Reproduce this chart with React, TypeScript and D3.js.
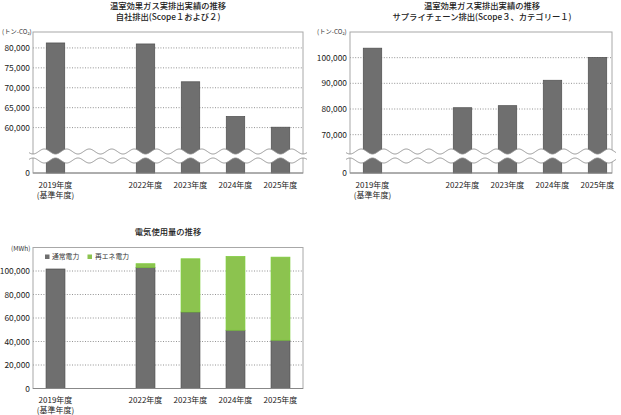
import * as d3 from 'd3';
import React from 'react';

// slots: one empty slot stands for the years that are not shown
const slots = ['2019', 'gap', '2022', '2023', '2024', '2025'];
const slotLabels = ['2019年度', '', '2022年度', '2023年度', '2024年度', '2025年度'];
const baseNote = '(基準年度)';

const scope12 = [81250, null, 81000, 71500, 62800, 60100];
const scope12Ticks = [60000, 65000, 70000, 75000, 80000];

const scope3 = [103700, null, 80500, 81300, 91200, 100100];
const scope3Ticks = [70000, 80000, 90000, 100000];

const elecNormal = [101700, null, 103100, 65100, 49600, 41100];
const elecRenew = [0, null, 3100, 45300, 62800, 70700];
const elecTicks = [0, 20000, 40000, 60000, 80000, 100000];

const FONT = '"Noto Sans CJK JP", "Noto Sans", sans-serif';
const GRAY = '#6f6f6f';
const GRAY_EDGE = '#4e4e4e';
const GREEN = '#8cc34f';
const GREEN_EDGE = '#7ccc38';
const FRAME = '#a8a8a8';
const GRID = '#777';

const fmt = d3.format(',');

type Box = { left: number; right: number; top: number; bottom: number };

const XLabels: React.FC<{ x: d3.ScaleBand<string>; y0: number }> = ({ x, y0 }) => (
  <g fontFamily={FONT} fontSize={8} fill="#222" textAnchor="middle">
    {slots.map((s, i) =>
      slotLabels[i] ? (
        <text key={s} x={x(s)! + x.bandwidth() / 2} y={y0}>
          {slotLabels[i]}
        </text>
      ) : null,
    )}
    <text x={x(slots[0])! + x.bandwidth() / 2} y={y0 + 10}>
      {baseNote}
    </text>
  </g>
);

const Wave: React.FC<{ box: Box; xc: number; period: number }> = ({ box, xc, period }) => {
  const xs = d3.range(box.left - 4, box.right + 4.01, 0.5);
  const up = xs.map((x) => [x, 151.5 + 2.5 * Math.cos((2 * Math.PI * (x - xc)) / period)] as [number, number]);
  const lo = xs.map((x) => [x, 160.5 - 2.5 * Math.cos((2 * Math.PI * (x - xc)) / period)] as [number, number]);
  const line = d3.line();
  const area = line([...up, ...lo.slice().reverse()]) + 'Z';
  return (
    <g>
      <path d={area} fill="#fff" />
      <path d={line(up)!} fill="none" stroke="#8a8a8a" strokeWidth={0.9} />
      <path d={line(lo)!} fill="none" stroke="#8a8a8a" strokeWidth={0.9} />
    </g>
  );
};

const BrokenChart: React.FC<{
  box: Box;
  bandEnd: number;
  values: (number | null)[];
  ticks: number[];
  domain: number[];
  title: string[];
  titleX: number;
  unitX: number;
}> = ({ box, bandEnd, values, ticks, domain, title, titleX, unitX }) => {
  const x = d3.scaleBand().domain(slots).range([box.left, bandEnd]).paddingInner(0.59).paddingOuter(0.295);
  const y = d3.scaleLinear().domain(domain).range([box.bottom, 147.5, box.top]);
  return (
    <g>
      <g fontFamily={FONT} fontSize={8.3} fill="#222" textAnchor="middle" fontWeight={500}>
        <text x={titleX} y={9}>{title[0]}</text>
        <text x={titleX} y={19.5}>{title[1]}</text>
      </g>
      <text x={unitX} y={34} fontFamily={FONT} fontSize={6.3} fill="#333">
        (トン-CO₂)
      </text>
      {ticks.map((t) => (
        <line key={t} x1={box.left} x2={box.right} y1={y(t)} y2={y(t)} stroke={GRID} strokeWidth={0.8} strokeDasharray="1 1.6" />
      ))}
      <rect x={box.left} y={box.top} width={box.right - box.left} height={box.bottom - box.top} fill="none" stroke={FRAME} strokeWidth={1} />
      {values.map((v, i) =>
        v == null ? null : (
          <rect key={i} x={x(slots[i])} y={y(v)} width={x.bandwidth()} height={box.bottom - y(v)} fill={GRAY} stroke={GRAY_EDGE} strokeWidth={0.7} />
        ),
      )}
      <Wave box={box} xc={x(slots[0])! + x.bandwidth() / 2} period={x.step() / 2} />
      <line x1={box.left} x2={box.right} y1={box.bottom} y2={box.bottom} stroke="#888" strokeWidth={1} />
      <g fontFamily={FONT} fontSize={8.4} fill="#222" textAnchor="end">
        {ticks.map((t) => (
          <text key={t} x={box.left - 3} y={y(t) + 3}>{fmt(t)}</text>
        ))}
        <text x={box.left - 3} y={box.bottom + 3}>0</text>
      </g>
      <XLabels x={x} y0={187.5} />
    </g>
  );
};

const StackedChart: React.FC = () => {
  const box: Box = { left: 33, right: 303, top: 247.5, bottom: 388.5 };
  const x = d3.scaleBand().domain(slots).range([box.left, box.left + 270]).paddingInner(0.58).paddingOuter(0.29);
  const y = d3.scaleLinear().domain([0, 120000]).range([box.bottom, box.top]);
  return (
    <g>
      <text x={168} y={234.5} fontFamily={FONT} fontSize={8.3} fontWeight={500} fill="#222" textAnchor="middle">
        電気使用量の推移
      </text>
      <text x={11} y={251} fontFamily={FONT} fontSize={6.5} fill="#333">(MWh)</text>
      {elecTicks.slice(1).map((t) => (
        <line key={t} x1={box.left} x2={box.right} y1={y(t)} y2={y(t)} stroke={GRID} strokeWidth={0.8} strokeDasharray="1 1.6" />
      ))}
      <rect x={box.left} y={box.top} width={box.right - box.left} height={box.bottom - box.top} fill="none" stroke={FRAME} strokeWidth={1} />
      {elecNormal.map((v, i) => {
        if (v == null) return null;
        const r = elecRenew[i] ?? 0;
        return (
          <g key={i}>
            <rect x={x(slots[i])} y={y(v)} width={x.bandwidth()} height={box.bottom - y(v)} fill={GRAY} stroke={GRAY_EDGE} strokeWidth={0.7} />
            {r > 0 && (
              <rect x={x(slots[i])} y={y(v + r)} width={x.bandwidth()} height={y(v) - y(v + r)} fill={GREEN} stroke={GREEN_EDGE} strokeWidth={0.7} />
            )}
          </g>
        );
      })}
      <line x1={box.left} x2={box.right} y1={box.bottom} y2={box.bottom} stroke="#888" strokeWidth={1} />
      <g fontFamily={FONT} fontSize={8.4} fill="#222" textAnchor="end">
        {elecTicks.map((t) => (
          <text key={t} x={box.left - 3} y={y(t) + 3}>{fmt(t)}</text>
        ))}
      </g>
      <g fontFamily={FONT} fontSize={6.8} fill="#333">
        <rect x={45} y={254.5} width={4.5} height={4.5} fill={GRAY} />
        <text x={52} y={259.3}>通常電力</text>
        <rect x={87.5} y={254.5} width={4.5} height={4.5} fill={GREEN} />
        <text x={95} y={259.3}>再エネ電力</text>
      </g>
      <g fontFamily={FONT} fontSize={8} fill="#222" textAnchor="middle">
        {slots.map((s, i) =>
          slotLabels[i] ? (
            <text key={s} x={x(s)! + x.bandwidth() / 2} y={403}>{slotLabels[i]}</text>
          ) : null,
        )}
        <text x={x(slots[0])! + x.bandwidth() / 2} y={412.5}>{baseNote}</text>
      </g>
    </g>
  );
};

export default function App() {
  return (
    <svg width={621} height={415} style={{ position: 'absolute', left: 0, top: 0, background: '#fff' }}>
      <rect width={621} height={415} fill="#fff" />
      <BrokenChart
        box={{ left: 33, right: 303, top: 32, bottom: 173 }}
        bandEnd={303}
        values={scope12}
        ticks={scope12Ticks}
        domain={[0, 55000, 84000]}
        title={['温室効果ガス実排出実績の推移', '自社排出(Scope１および２)']}
        titleX={168}
        unitX={2}
      />
      <BrokenChart
        box={{ left: 350, right: 612, top: 32, bottom: 173 }}
        bandEnd={620}
        values={scope3}
        ticks={scope3Ticks}
        domain={[0, 65000, 110000]}
        title={['温室効果ガス実排出実績の推移', 'サプライチェーン排出(Scope３、カテゴリー１)']}
        titleX={482}
        unitX={317}
      />
      <StackedChart />
    </svg>
  );
}
